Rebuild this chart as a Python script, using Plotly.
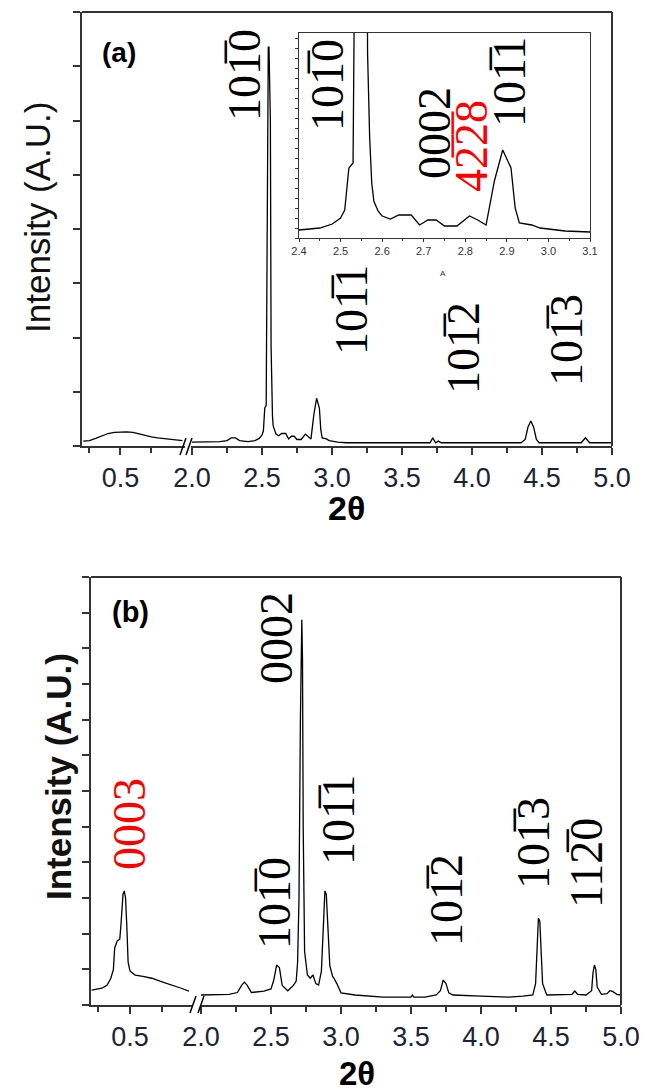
import plotly.graph_objects as go

W, H = 647, 1090

# ---------------- data ----------------
# Panel (a): low-angle segment
a_left_x = [0.20, 0.25, 0.30, 0.35, 0.40, 0.45, 0.50, 0.55, 0.60, 0.65, 0.70, 0.75, 0.80, 0.85, 0.90, 0.95, 1.00]
a_left_y = [0.09, 0.10, 0.14, 0.19, 0.23, 0.25, 0.26, 0.26, 0.25, 0.22, 0.20, 0.17, 0.15, 0.14, 0.12, 0.11, 0.10]

# Panel (a): main segment (also shown in the inset)
a_right_x = [2.00, 2.10, 2.20, 2.25, 2.28, 2.31, 2.34, 2.40, 2.45, 2.48, 2.50, 2.51, 2.52, 2.53, 2.535, 2.54,
             2.545, 2.55, 2.555, 2.56, 2.565, 2.57, 2.575, 2.58, 2.59, 2.60, 2.62, 2.64, 2.67, 2.69, 2.71,
             2.73, 2.75, 2.78, 2.81, 2.83, 2.85, 2.87, 2.89, 2.91, 2.92, 2.93, 2.96, 2.98, 3.00, 3.04,
             3.10, 3.30, 3.50, 3.70, 3.72, 3.74, 3.76, 3.78, 4.00, 4.20, 4.35, 4.38, 4.40, 4.42, 4.44,
             4.46, 4.48, 4.60, 4.78, 4.81, 4.84, 5.00]
a_right_y = [0.07, 0.07, 0.08, 0.10, 0.15, 0.15, 0.10, 0.08, 0.10, 0.14, 0.20, 0.28, 0.70, 0.75, 3.00, 6.00,
             7.35, 7.35, 6.10, 6.00, 1.84, 1.00, 0.55, 0.37, 0.27, 0.22, 0.19, 0.23, 0.23, 0.13, 0.18,
             0.18, 0.12, 0.12, 0.22, 0.18, 0.13, 0.57, 0.88, 0.70, 0.30, 0.15, 0.13, 0.10, 0.09, 0.07,
             0.06, 0.06, 0.06, 0.06, 0.15, 0.06, 0.09, 0.06, 0.06, 0.06, 0.06, 0.12, 0.35, 0.46, 0.35,
             0.12, 0.06, 0.06, 0.06, 0.15, 0.06, 0.06]

# Panel (b): low-angle segment
b_left_x = [0.20, 0.25, 0.28, 0.32, 0.35, 0.37, 0.38, 0.40, 0.42, 0.43, 0.445, 0.455, 0.465, 0.475,
            0.485, 0.50, 0.54, 0.60, 0.67, 0.75, 0.83, 0.90, 0.96]
b_left_y = [0.42, 0.44, 0.47, 0.55, 0.75, 1.00, 1.60, 1.80, 1.85, 2.30, 3.10, 3.20, 3.00, 2.20,
            1.20, 0.95, 0.84, 0.80, 0.75, 0.65, 0.56, 0.47, 0.39]

# Panel (b): main segment
b_right_x = [2.00, 2.10, 2.20, 2.26, 2.29, 2.31, 2.33, 2.36, 2.45, 2.50, 2.52, 2.54, 2.56, 2.58, 2.62,
             2.66, 2.68, 2.69, 2.70, 2.71, 2.715, 2.72, 2.725, 2.73, 2.74, 2.76, 2.78, 2.80, 2.82, 2.84,
             2.86, 2.875, 2.885, 2.895, 2.905, 2.92, 2.94, 2.95, 2.97, 3.00, 3.10, 3.30, 3.50, 3.51,
             3.52, 3.60, 3.68, 3.71, 3.73, 3.75, 3.77, 3.80, 4.00, 4.20, 4.30, 4.37, 4.39, 4.40, 4.41,
             4.42, 4.43, 4.44, 4.47, 4.60, 4.65, 4.67, 4.69, 4.75, 4.79, 4.80, 4.81, 4.82, 4.83, 4.86,
             4.90, 4.92, 4.94, 4.97, 5.00]
b_right_y = [0.28, 0.28, 0.30, 0.35, 0.55, 0.64, 0.55, 0.35, 0.39, 0.45, 0.70, 1.12, 1.05, 0.55, 0.40,
             0.55, 0.67, 1.20, 3.00, 8.00, 10.05, 10.80, 9.70, 5.00, 1.50, 0.84, 0.75, 0.84, 0.60, 0.56,
             0.95, 2.20, 3.20, 3.10, 2.20, 1.10, 0.80, 0.75, 0.60, 0.34, 0.28, 0.22, 0.22, 0.28,
             0.22, 0.22, 0.28, 0.40, 0.70, 0.60, 0.34, 0.28, 0.25, 0.22, 0.25, 0.28, 0.60, 1.60, 2.43,
             2.35, 1.60, 0.60, 0.28, 0.28, 0.30, 0.39, 0.30, 0.28, 0.40, 0.90, 1.12, 1.00, 0.50, 0.30,
             0.32, 0.40, 0.38, 0.30, 0.28]

right_ticks = [2.0, 2.5, 3.0, 3.5, 4.0, 4.5, 5.0]
right_ticktext = ["2.0", "2.5", "3.0", "3.5", "4.0", "4.5", "5.0"]
left_ticks = [0.5]
left_ticktext = ["0.5"]
inset_ticks = [2.4, 2.5, 2.6, 2.7, 2.8, 2.9, 3.0, 3.1]

# peak labels: (text, colour, centre px x, centre px y)
labels_a = [("101\u03050", "black", 236, 67), ("101\u03051", "black", 343, 302),
            ("101\u03052", "black", 455, 340), ("101\u03053", "black", 558, 332),
            ("101\u03050", "black", 320, 77), ("0002", "black", 427, 125),
            ("42\u03052\u03058", "red", 464, 138), ("101\u03051", "black", 502, 74)]
labels_b = [("0003", "red", 121, 816), ("101\u03050", "black", 266, 895), ("0002", "black", 268, 630),
            ("101\u03051", "black", 330, 812), ("101\u03052", "black", 438, 892),
            ("101\u03053", "black", 525, 835), ("112\u03050", "black", 578, 855)]


def px(x):
    return x / W


def py(y):
    return 1 - y / H


fig = go.Figure()
line = dict(color="black", width=1.3)
fig.add_trace(go.Scatter(x=a_left_x, y=a_left_y, xaxis="x", yaxis="y", mode="lines", line=line))
fig.add_trace(go.Scatter(x=a_right_x, y=a_right_y, xaxis="x2", yaxis="y", mode="lines", line=line))
fig.add_trace(go.Scatter(x=a_right_x, y=a_right_y, xaxis="x5", yaxis="y5", mode="lines", line=line))
fig.add_trace(go.Scatter(x=b_left_x, y=b_left_y, xaxis="x3", yaxis="y3", mode="lines", line=line))
fig.add_trace(go.Scatter(x=b_right_x, y=b_right_y, xaxis="x4", yaxis="y3", mode="lines", line=line))

AX = "#333333"
tickfont = dict(family="Liberation Sans, Arial", size=27, color="#1c2338")


def xax(dom, rng, anchor, tv, tt, minor):
    return dict(domain=dom, range=rng, anchor=anchor, showline=True, linecolor=AX, linewidth=2,
                ticks="outside", ticklen=7, tickwidth=1.5, tickcolor=AX, tickvals=tv, ticktext=tt,
                tickfont=tickfont, showgrid=False, zeroline=False, fixedrange=True, automargin=False,
                minor=dict(ticks="outside", ticklen=5, tickwidth=1.5, tickcolor=AX, tickvals=minor))


def yax(dom, rng, anchor):
    return dict(domain=dom, range=rng, anchor=anchor, showline=True, linecolor=AX, linewidth=2,
                ticks="outside", ticklen=7, tickwidth=1.5, tickcolor=AX, dtick=1, tick0=0,
                showticklabels=False, showgrid=False, zeroline=False, fixedrange=True, automargin=False)


minor_right = [2.25, 2.75, 3.25, 3.75, 4.25, 4.75]
fig.update_layout(
    width=W, height=H, margin=dict(l=0, r=0, t=0, b=0, pad=0, autoexpand=False),
    paper_bgcolor="white", plot_bgcolor="rgba(0,0,0,0)", showlegend=False,
    xaxis=xax([px(74), px(177)], [0.19, 1.02], "y", left_ticks, left_ticktext, [0.25, 0.75]),
    xaxis2=xax([px(183), px(604)], [1.993, 5.0], "y", right_ticks, right_ticktext, minor_right),
    yaxis=yax([py(438), py(4)], [0, 8], "x"),
    xaxis3=xax([px(83), px(185)], [0.195, 0.992], "y3", left_ticks, left_ticktext, [0.25, 0.75]),
    xaxis4=xax([px(193), px(613)], [2.0, 5.0], "y3", right_ticks, right_ticktext, minor_right),
    yaxis3=yax([py(997), py(569)], [0, 12], "x3"),
    xaxis5=dict(domain=[px(291), px(582)], range=[2.4, 3.1], anchor="y5", showline=True, mirror=True,
                linecolor=AX, linewidth=1.2, ticks="outside", ticklen=3, tickcolor=AX, tickvals=inset_ticks,
                tickformat=".1f", tickfont=dict(family="Liberation Sans, Arial", size=11, color="#333"),
                showgrid=False, zeroline=False, fixedrange=True, automargin=False,
                minor=dict(ticks="outside", ticklen=2, tickcolor=AX, dtick=0.05)),
    yaxis5=dict(domain=[py(230), py(25)], range=[0, 2.05], anchor="x5", showline=True, mirror=True,
                linecolor=AX, linewidth=1.2, ticks="outside", ticklen=3, tickcolor=AX, dtick=0.1,
                showticklabels=False, showgrid=False, zeroline=False, fixedrange=True, automargin=False),
)

shapes = []
frame = dict(color=AX, width=2)
# top and right frame lines
shapes.append(dict(type="line", xref="paper", yref="paper", x0=px(74), x1=px(604), y0=py(4), y1=py(4), line=frame))
shapes.append(dict(type="line", xref="paper", yref="paper", x0=px(604), x1=px(604), y0=py(4), y1=py(438), line=frame))
shapes.append(dict(type="line", xref="paper", yref="paper", x0=px(83), x1=px(613), y0=py(569), y1=py(569), line=frame))
shapes.append(dict(type="line", xref="paper", yref="paper", x0=px(613), x1=px(613), y0=py(569), y1=py(997), line=frame))
# axis-break marks
brk = dict(color="black", width=1.5)
for (x0, y0, x1, y1) in [(172, 447, 178, 430), (178, 447, 184, 430),
                         (182, 1005, 188, 988), (190, 1005, 196, 988)]:
    shapes.append(dict(type="line", xref="paper", yref="paper", x0=px(x0), x1=px(x1), y0=py(y0), y1=py(y1), line=brk))
fig.update_layout(shapes=shapes)

ann = []
serif = "Liberation Serif, Times New Roman, DejaVu Serif"
for (t, c, x, y) in labels_a + labels_b:
    ann.append(dict(text=t, x=px(x), y=py(y), xref="paper", yref="paper", showarrow=False, textangle=-90,
                    xanchor="center", yanchor="middle", font=dict(family=serif, size=46, color=c)))

sans = "Liberation Sans, Arial"
ann.append(dict(text="<b>(a)</b>", x=px(111), y=py(44), xref="paper", yref="paper", showarrow=False,
                xanchor="center", yanchor="middle", font=dict(family=sans, size=28, color="black")))
ann.append(dict(text="<b>(b)</b>", x=px(122), y=py(604), xref="paper", yref="paper", showarrow=False,
                xanchor="center", yanchor="middle", font=dict(family=sans, size=29, color="black")))
ann.append(dict(text="<b>2θ</b>", x=px(338), y=py(500), xref="paper", yref="paper", showarrow=False,
                xanchor="center", yanchor="middle", font=dict(family=sans, size=34, color="black")))
ann.append(dict(text="<b>2θ</b>", x=px(349), y=py(1065), xref="paper", yref="paper", showarrow=False,
                xanchor="center", yanchor="middle", font=dict(family=sans, size=33, color="black")))
ann.append(dict(text="Intensity (A.U.)", x=px(30), y=py(210), xref="paper", yref="paper", showarrow=False,
                textangle=-90, xanchor="center", yanchor="middle", font=dict(family=sans, size=35, color="#111")))
ann.append(dict(text="<b>Intensity (A.U.)</b>", x=px(50), y=py(769), xref="paper", yref="paper", showarrow=False,
                textangle=-90, xanchor="center", yanchor="middle", font=dict(family=sans, size=35, color="#111")))
ann.append(dict(text="A", x=px(435), y=py(265), xref="paper", yref="paper", showarrow=False,
                xanchor="center", yanchor="middle", font=dict(family=sans, size=8, color="#333")))
fig.update_layout(annotations=ann)

fig.write_html("out.html")
